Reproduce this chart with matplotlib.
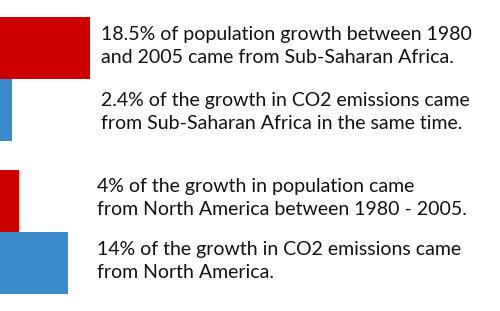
import matplotlib
matplotlib.use("Agg")
import matplotlib.pyplot as plt

# Data
regions = ["Sub-Saharan Africa", "North America"]
pop_growth_share = [18.5, 4.0]
co2_growth_share = [2.4, 14.0]
texts_pop = [
    "18.5% of population growth between 1980\nand 2005 came from Sub-Saharan Africa.",
    "4% of the growth in population came\nfrom North America between 1980 - 2005.",
]
texts_co2 = [
    "2.4% of the growth in CO2 emissions came\nfrom Sub-Saharan Africa in the same time.",
    "14% of the growth in CO2 emissions came\nfrom North America.",
]

RED = "#CC0000"
BLUE = "#3A8ACC"

W, H = 500, 311
fig = plt.figure(figsize=(W / 100, H / 100), dpi=100)
ax = fig.add_axes([0, 0, 1, 1])

gap = 2.47
ypos_pop = [g * gap for g in range(len(regions))]
ypos_co2 = [g * gap + 1 for g in range(len(regions))]

ax.barh(ypos_pop, pop_growth_share, height=1.0, color=RED, edgecolor="none", align="center")
ax.barh(ypos_co2, co2_growth_share, height=1.0, color=BLUE, edgecolor="none", align="center")

ax.set_xlim(0, 18.5 * W / 90)
top = -48 / 62
ax.set_ylim(top + H / 62, top)
ax.axis("off")

font = dict(family="Lato", fontsize=14.0, color="#111111", linespacing=1.46)
text_x = [101, 97]
text_pop_y = [46, 198]
text_co2_y = [112, 261]
for i in range(len(regions)):
    fig.text(text_x[i] / W, 1 - text_pop_y[i] / H, texts_pop[i], ha="left", va="center", **font)
    fig.text(text_x[i] / W, 1 - text_co2_y[i] / H, texts_co2[i], ha="left", va="center", **font)

fig.savefig("out.png", dpi=100)
